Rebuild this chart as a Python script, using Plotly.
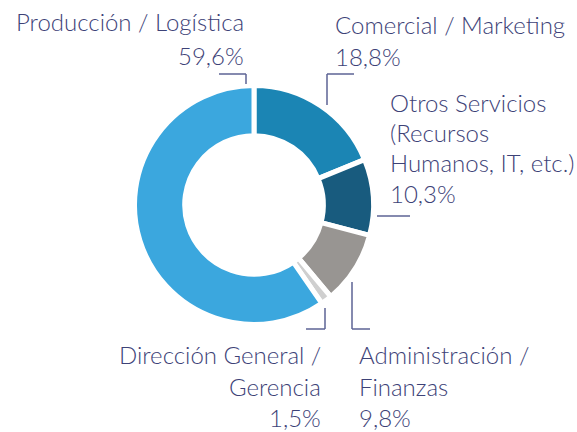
import plotly.graph_objects as go

# ---- data ----
categories = ["Comercial / Marketing",
              "Otros Servicios (Recursos Humanos, IT, etc.)",
              "Administración / Finanzas",
              "Dirección General / Gerencia",
              "Producción / Logística"]
values = [18.8, 10.3, 9.8, 1.5, 59.6]
colors = ["#1B85B4", "#185B7E", "#989592", "#CFCFCF", "#3BA7DE"]
label_lines = [
    ["Comercial / Marketing"],
    ["Otros Servicios", "(Recursos", "Humanos, IT, etc.)"],
    ["Administración /", "Finanzas"],
    ["Dirección General /", "Gerencia"],
    ["Producción / Logística"],
]

W, H = 577, 432
TXT = "#3d4277"
LINE = "#5d6394"
FONT = "Lato"
FS = 24


def px(x):
    return x / W


def py(y):
    return 1 - y / H


def pct(v):
    return f"{v:.1f}".replace(".", ",") + "%"


fig = go.Figure(go.Pie(
    labels=categories, values=values, sort=False, direction="clockwise",
    rotation=0, hole=0.58, textinfo="none", hoverinfo="label+percent",
    marker=dict(colors=colors, line=dict(color="white", width=5)),
    domain=dict(x=[px(134.5), px(373.5)], y=[py(324.5), py(85.5)]),
    showlegend=False,
))

# label layout: (anchor x, xanchor, [cap-top y of each line])
label_pos = [
    (333, "left", [15, 47]),
    (388, "left", [93, 123, 153, 184]),
    (357, "left", [345, 377, 408]),
    (323, "right", [345, 377, 408]),
    (246, "right", [12, 46]),
]

annotations = []
for lines, v, (x, xa, tops) in zip(label_lines, values, label_pos):
    all_lines = lines + [pct(v)]
    for t, ytop in zip(all_lines, tops):
        annotations.append(dict(
            x=px(x), y=py(ytop + 9), xref="paper", yref="paper",
            xanchor=xa, yanchor="middle", text=t, showarrow=False,
            font=dict(family=FONT, size=FS, color=TXT, weight=300),
        ))

# leader lines (pixel coords)
segments = [
    ((219, 74), (246, 74)), ((246, 74), (246, 84)),
    ((327, 74), (354, 74)), ((327, 74), (327, 105)),
    ((377, 216), (410, 216)),
    ((325, 308), (325, 329)), ((306, 329), (325, 329)),
    ((352, 282), (352, 329)), ((352, 329), (370, 329)),
]
shapes = [dict(type="line", xref="paper", yref="paper",
               x0=px(a[0]), y0=py(a[1]), x1=px(b[0]), y1=py(b[1]),
               line=dict(color=LINE, width=1.5)) for a, b in segments]

fig.update_layout(
    width=W, height=H, margin=dict(l=0, r=0, t=0, b=0),
    paper_bgcolor="white", plot_bgcolor="white",
    annotations=annotations, shapes=shapes,
)
fig.write_html("out.html", config={"displayModeBar": False},
               post_script="document.body.style.margin='0';document.body.style.overflow='hidden';")
